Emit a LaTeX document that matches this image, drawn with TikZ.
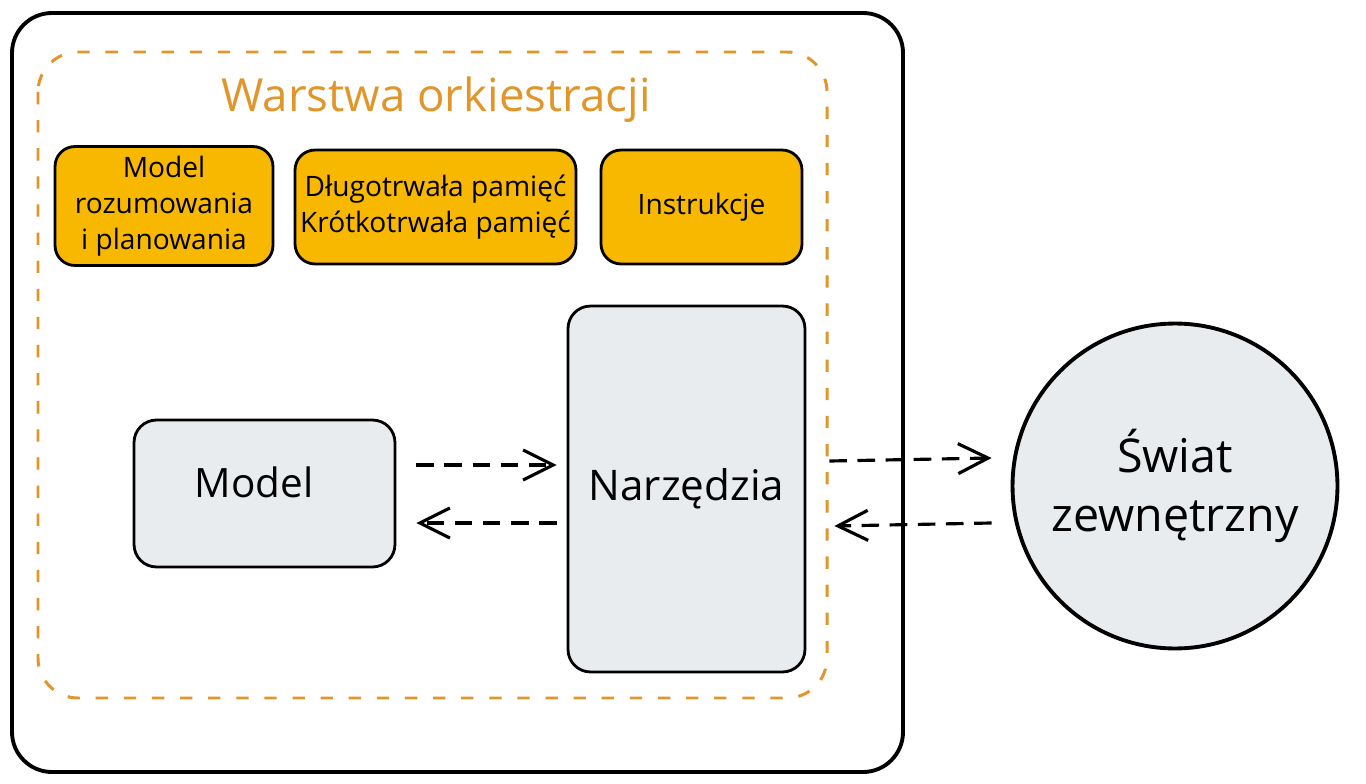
\documentclass[tikz,border=0pt]{standalone}
\usepackage{fontspec}
\setmainfont{Open Sans}
\usetikzlibrary{arrows.meta}
\definecolor{orchorange}{HTML}{E0962A}
\definecolor{cardyellow}{HTML}{F9B800}
\definecolor{cardgray}{HTML}{E9ECEF}
\tikzset{
  card/.style={draw=black, line width=1.6pt, rounded corners=0.4cm, fill=cardyellow,
    align=center, font=\fontsize{16}{20.5}\selectfont, inner sep=0pt},
  block/.style={draw=black, line width=1.6pt, rounded corners=0.45cm, fill=cardgray,
    align=center, font=\fontsize{23}{28}\selectfont, inner sep=0pt},
  flow/.style={line width=1.8pt, dash pattern=on 10pt off 6pt,
    -{Straight Barb[length=0.6cm, width=0.6cm, line width=1.8pt]}}
}
\begin{document}
\begin{tikzpicture}[x=0.02cm, y=-0.02cm]
    \useasboundingbox (0,0) rectangle (1366,784);

    % Ramka zewnetrzna
    \draw[line width=2.2pt, rounded corners=0.8cm, fill=white] (12,13) rectangle (903,772);

    % Warstwa orkiestracji (przerywana)
    \draw[orchorange, line width=1.7pt, dash pattern=on 7pt off 9pt, rounded corners=0.8cm]
        (38,52) rectangle (827,698);
    \node[text=orchorange, font=\fontsize{26}{31}\selectfont] (title) at (436,100) {Warstwa orkiestracji};

    % Skladniki
    \node[card, minimum width=4.36cm, minimum height=2.38cm] (reason) at (164,206)
        {Model\\rozumowania\\i planowania};
    \node[card, minimum width=5.62cm, minimum height=2.28cm] (memory) at (435.5,207)
        {Długotrwała pamięć\\Krótkotrwała pamięć};
    \node[card, minimum width=4.02cm, minimum height=2.28cm] (instr) at (701.5,207) {Instrukcje};

    % Model i narzedzia
    \node[block, minimum width=5.22cm, minimum height=2.94cm] (model) at (264.5,493.5) {};
    \node[font=\fontsize{23}{28}\selectfont] (modeltxt) at (254,482) {Model};
    \node[block, minimum width=4.74cm, minimum height=7.32cm,
        font=\fontsize{24}{29}\selectfont] (tools) at (686.5,489) {Narzędzia};

    % Swiat zewnetrzny
    \node[circle, draw=black, line width=2.2pt, fill=cardgray, minimum size=6.5cm, align=center,
        font=\fontsize{26.5}{34}\selectfont] (world) at (1175,486) {Świat\\zewnętrzny};

    % Przeplyw
    \draw[flow] ([xshift=0.4cm, yshift=0.57cm]model.east) -- ([xshift=-0.2cm, yshift=0.57cm]tools.west |- model.east);
    \draw[flow] ([xshift=-0.2cm, yshift=-0.59cm]tools.west |- model.east) -- ([xshift=0.4cm, yshift=-0.59cm]model.east);
    \draw[flow] ([xshift=0.46cm, yshift=0.56cm]tools.east) -- ([xshift=-0.38cm, yshift=0.56cm]world.west);
    \draw[flow] ([xshift=-0.38cm, yshift=-0.74cm]world.west) -- ([xshift=0.56cm, yshift=-0.74cm]tools.east);
\end{tikzpicture}
\end{document}
